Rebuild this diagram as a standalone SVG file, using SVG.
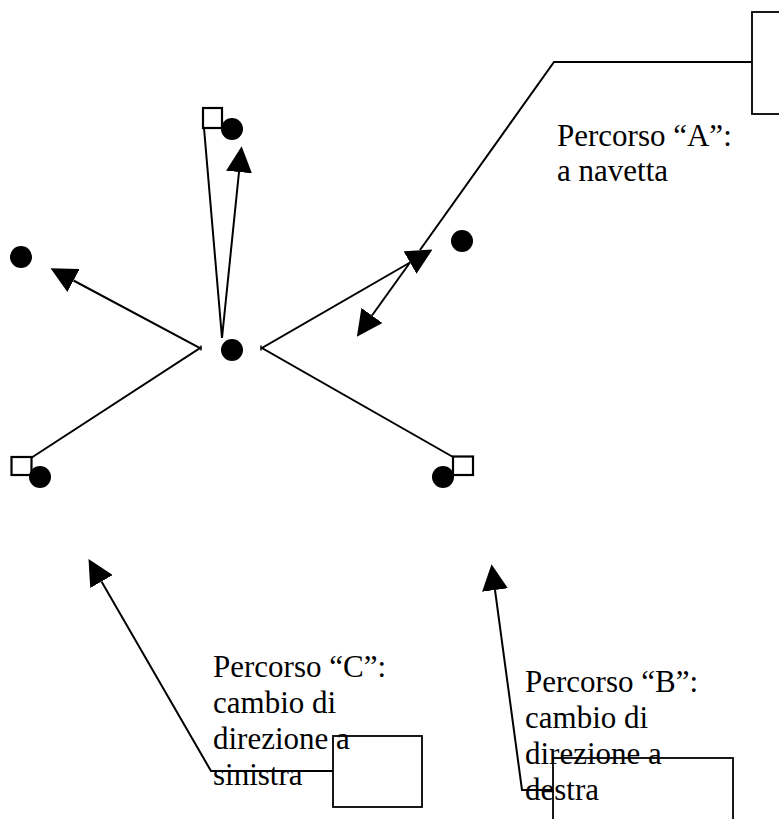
<svg xmlns="http://www.w3.org/2000/svg" width="779" height="819" viewBox="0 0 779 819">
<style>
.ln{fill:none;stroke:#000;stroke-width:2;stroke-linejoin:miter}
.sq{fill:#fff;stroke:#000;stroke-width:2.2}
.dot{fill:#000}
.box{fill:none;stroke:#000;stroke-width:1.8}
.lbl{font-family:"Liberation Serif","Times New Roman",serif;font-size:31px;fill:#000}
</style>
<defs>
<marker id="ah" markerUnits="userSpaceOnUse" markerWidth="26" markerHeight="26" viewBox="0 0 26 26" refX="0" refY="13" orient="auto">
<path d="M0,0 L26,13 L0,26 z" fill="#000"/>
</marker>
</defs>
<rect width="779" height="819" fill="#fff"/>
<g id="connectors">
<polyline class="ln" points="204,128 222,338 239,172" marker-end="url(#ah)"/>
<polyline class="ln" points="31,458 200,348 73.5,280.5" marker-end="url(#ah)"/>
<polyline class="ln" points="453,457 262,348 410,262.5" marker-end="url(#ah)"/>
<line class="ln" x1="410" y1="262.5" x2="372" y2="315.5" marker-end="url(#ah)"/>
<polyline class="ln" points="752,62 554,62 420,250"/>
<polyline class="ln" points="333,771 211,771 101.5,581.5" marker-end="url(#ah)"/>
<polyline class="ln" points="553,790 522,790 495,590" marker-end="url(#ah)"/>
<line x1="201" y1="345.5" x2="201" y2="350.5" stroke="#000" stroke-width="1.5"/>
<line x1="261" y1="345.5" x2="261" y2="350.5" stroke="#000" stroke-width="1.5"/>
</g>
<g id="node-top">
<rect class="sq" x="203" y="108" width="19" height="20"/>
<circle class="dot" cx="232" cy="129" r="11"/>
</g>
<g id="node-left"><circle class="dot" cx="21" cy="257" r="11"/></g>
<g id="node-center"><circle class="dot" cx="232" cy="350" r="11"/></g>
<g id="node-right"><circle class="dot" cx="462" cy="241" r="11"/></g>
<g id="node-bottom-left">
<rect class="sq" x="11.5" y="457" width="20" height="18"/>
<circle class="dot" cx="40" cy="477" r="11"/>
</g>
<g id="node-bottom-right">
<rect class="sq" x="453" y="456.5" width="20" height="18.5"/>
<circle class="dot" cx="443" cy="477" r="11"/>
</g>
<g id="label-A">
<rect class="box" x="752" y="12" width="60" height="102"/>
<text class="lbl" x="557" y="146">Percorso “A”:</text>
<text class="lbl" x="557" y="181">a navetta</text>
</g>
<g id="label-C">
<text class="lbl" x="213" y="677">Percorso “C”:</text>
<text class="lbl" x="213" y="713">cambio di</text>
<text class="lbl" x="213" y="749">direzione a</text>
<text class="lbl" x="213" y="785">sinistra</text>
<rect class="box" x="333" y="736" width="89" height="71"/>
</g>
<g id="label-B">
<text class="lbl" x="525" y="692">Percorso “B”:</text>
<text class="lbl" x="525" y="728">cambio di</text>
<text class="lbl" x="525" y="764">direzione a</text>
<text class="lbl" x="525" y="800">destra</text>
<rect class="box" x="553" y="758" width="180" height="80"/>
</g>
</svg>
